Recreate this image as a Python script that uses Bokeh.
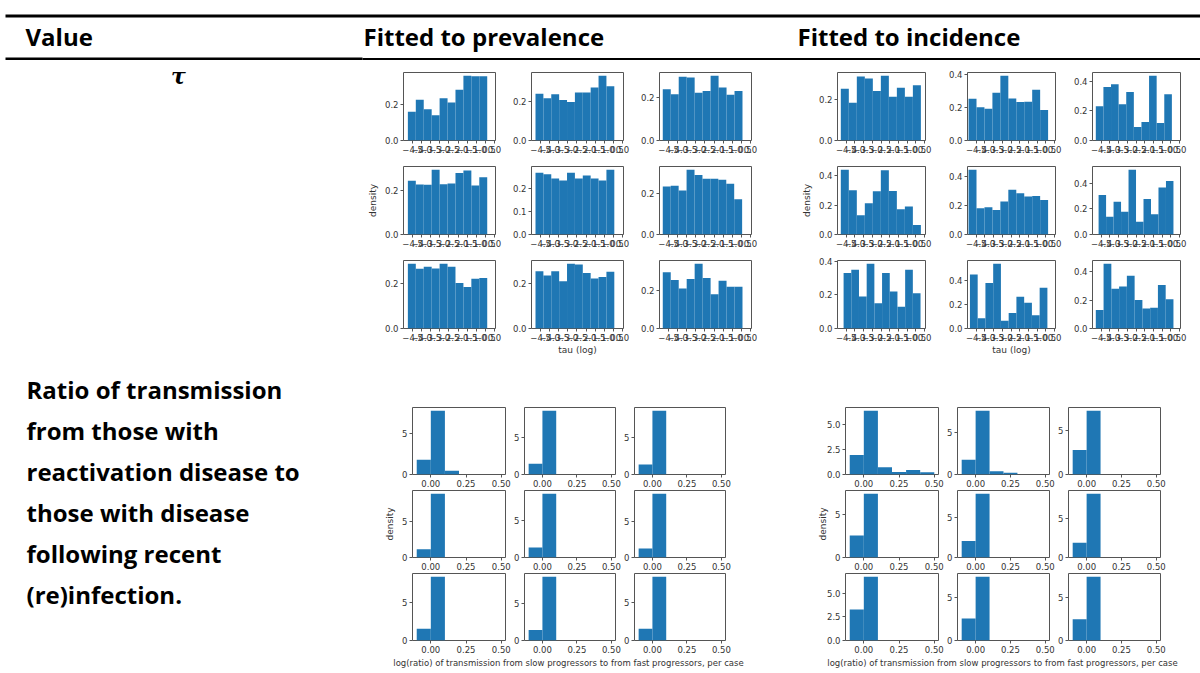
import numpy as np
from bokeh.plotting import figure
from bokeh.layouts import row, column
from bokeh.models import Range1d, FixedTicker, Spacer, ColumnDataSource, CustomJSTickFormatter
from bokeh.core.properties import value
from bokeh.embed import file_html
from bokeh.resources import INLINE

# ---------------- data ----------------
header_labels = ["Value", "Fitted to prevalence", "Fitted to incidence"]
tau_symbol = "τ"
ratio_row_label = ["Ratio of transmission", "from those with", "reactivation disease to",
                   "those with disease", "following recent", "(re)infection."]
tau_xlabel = "tau (log)"
ratio_xlabel = "log(ratio) of transmission from slow progressors to from fast progressors, per case"
density_label = "density"

# tau (log) histograms, 10 bins each, panels in row-major order (3x3)
tau_prev = [
    [0.159, 0.224, 0.172, 0.139, 0.233, 0.209, 0.280, 0.357, 0.354, 0.354],
    [0.243, 0.219, 0.240, 0.210, 0.200, 0.249, 0.249, 0.275, 0.336, 0.282],
    [0.239, 0.216, 0.297, 0.294, 0.223, 0.231, 0.302, 0.247, 0.213, 0.231],
    [0.246, 0.229, 0.228, 0.297, 0.231, 0.234, 0.282, 0.294, 0.225, 0.263],
    [0.269, 0.262, 0.244, 0.235, 0.269, 0.244, 0.257, 0.244, 0.235, 0.282],
    [0.233, 0.236, 0.213, 0.314, 0.289, 0.270, 0.270, 0.265, 0.246, 0.171],
    [0.291, 0.268, 0.277, 0.270, 0.291, 0.277, 0.205, 0.186, 0.224, 0.227],
    [0.256, 0.236, 0.256, 0.211, 0.289, 0.286, 0.248, 0.223, 0.230, 0.253],
    [0.295, 0.254, 0.209, 0.259, 0.339, 0.264, 0.179, 0.250, 0.218, 0.218],
]
tau_prev_lo = [-4.76, -4.78, -4.82, -4.76, -4.78, -4.82, -4.76, -4.78, -4.82]
tau_prev_hi = [-0.40, -0.45, -0.44, -0.40, -0.45, -0.46, -0.40, -0.45, -0.44]

tau_inc = [
    [0.252, 0.184, 0.311, 0.302, 0.241, 0.315, 0.213, 0.257, 0.213, 0.269],
    [0.254, 0.203, 0.193, 0.291, 0.394, 0.256, 0.234, 0.236, 0.308, 0.185],
    [0.233, 0.363, 0.382, 0.245, 0.329, 0.091, 0.126, 0.439, 0.119, 0.313],
    [0.440, 0.300, 0.130, 0.212, 0.293, 0.437, 0.295, 0.172, 0.190, 0.065],
    [0.446, 0.180, 0.187, 0.169, 0.227, 0.308, 0.284, 0.261, 0.266, 0.238],
    [0.308, 0.139, 0.256, 0.178, 0.505, 0.099, 0.277, 0.157, 0.366, 0.418],
    [0.330, 0.350, 0.190, 0.385, 0.150, 0.330, 0.220, 0.130, 0.350, 0.210],
    [0.450, 0.085, 0.380, 0.540, 0.065, 0.130, 0.265, 0.215, 0.110, 0.340],
    [0.130, 0.455, 0.280, 0.295, 0.370, 0.200, 0.140, 0.145, 0.305, 0.205],
]
tau_inc_lo = [-4.81, -4.94, -4.81, -4.81, -4.94, -4.65, -4.65, -4.86, -4.81]
tau_inc_hi = [-0.21, -0.37, -0.44, -0.21, -0.37, -0.35, -0.23, -0.41, -0.35]

tau_xlim = (-5.0, 0.055)
tau_xticks = [-4.5, -4.0, -3.5, -3.0, -2.5, -2.0, -1.5, -1.0, -0.5, 0.0]

# log(ratio) histograms, bins of 0.1 from -0.1 to 0.5
ratio_edges = [-0.1, 0.0, 0.1, 0.2, 0.3, 0.4, 0.5]
ratio_prev = [
    [1.80, 7.75, 0.45, 0, 0, 0],
    [1.45, 8.55, 0, 0, 0, 0],
    [1.35, 8.65, 0, 0, 0, 0],
    [1.15, 8.85, 0, 0, 0, 0],
    [1.35, 8.65, 0, 0, 0, 0],
    [1.25, 8.75, 0, 0, 0, 0],
    [1.55, 8.45, 0, 0, 0, 0],
    [1.40, 8.60, 0, 0, 0, 0],
    [1.55, 8.45, 0, 0, 0, 0],
]
ratio_inc = [
    [1.95, 6.40, 0.72, 0.25, 0.45, 0.23],
    [1.76, 7.65, 0.39, 0.20, 0, 0],
    [2.78, 7.22, 0, 0, 0, 0],
    [2.56, 7.44, 0, 0, 0, 0],
    [2.05, 7.95, 0, 0, 0, 0],
    [1.89, 8.11, 0, 0, 0, 0],
    [3.27, 6.73, 0, 0, 0, 0],
    [2.56, 7.44, 0, 0, 0, 0],
    [2.50, 7.50, 0, 0, 0, 0],
]
ratio_xlim = (-0.13, 0.53)
ratio_xticks = [0.0, 0.25, 0.5]

# ---------------- style ----------------
BLUE = "#1f77b4"
SPINE = "#555555"
TXT = "#333333"
TICK_FS = "8.5px"
LAB_FS = "9px"


def fmt(digits):
    return CustomJSTickFormatter(args=dict(d=digits), code="""
        const s = Math.abs(tick).toFixed(d);
        return (tick < -1e-9 ? "\u2212" : "") + s;
    """)


def panel(edges, dens, xlim, xticks, xdig, ystep_rule, w, h, bl, br, bt, bb,
          ylab=None, xlab=None):
    ymax = 1.05 * max(dens)
    p = figure(width=w, height=h, x_range=Range1d(*xlim), y_range=Range1d(0, ymax),
               output_backend="svg", toolbar_location=None,
               min_border_left=bl, min_border_right=br, min_border_top=bt, min_border_bottom=bb)
    src = ColumnDataSource(dict(left=list(edges[:-1]), right=list(edges[1:]), top=list(dens)))
    p.quad(left="left", right="right", top="top", bottom=0, source=src,
           fill_color=BLUE, line_color=None)
    p.grid.visible = False
    p.outline_line_color = SPINE
    p.outline_line_width = 1
    p.outline_line_alpha = 1
    step, ydig = ystep_rule(ymax)
    yticks = [round(k * step, 4) for k in range(0, int(ymax / step + 1e-9) + 1)]
    p.xaxis.ticker = FixedTicker(ticks=xticks)
    p.yaxis.ticker = FixedTicker(ticks=yticks)
    p.xaxis.formatter = fmt(xdig)
    p.yaxis.formatter = fmt(ydig)
    for ax in (p.xaxis[0], p.yaxis[0]):
        ax.axis_line_color = None
        ax.major_tick_line_color = SPINE
        ax.major_tick_out = 3
        ax.major_tick_in = 0
        ax.minor_tick_line_color = None
        ax.major_label_text_font = "DejaVu Sans"
        ax.major_label_text_font_size = TICK_FS
        ax.major_label_text_color = TXT
        ax.major_label_standoff = 2
        ax.axis_label_text_font = "DejaVu Sans"
        ax.axis_label_text_font_size = LAB_FS
        ax.axis_label_text_font_style = "normal"
        ax.axis_label_text_color = TXT
    if ylab:
        p.yaxis.axis_label = ylab
        p.yaxis.axis_label_standoff = 4
    if xlab:
        p.xaxis.axis_label = xlab
        p.xaxis.axis_label_standoff = 1
    return p


def tau_rule(ymax):
    return (0.1 if ymax < 0.3 else 0.2), 1


def ratio_rule(ymax):
    return (2.5, 1) if ymax < 7.5 else (5.0, 0)


# layout geometry (pixels): (border_left, frame_width, border_right) / (top, frame_height, bottom)
tau_prev_cols = [(43, 92, 7), (29, 92, 7), (29, 92, 7)]
tau_inc_cols = [(47, 88, 7), (35, 88, 7), (30, 88, 7)]
tau_rows = [(12, 68, 20), (6, 68, 20), (6, 68, 32)]
ratio_prev_cols = [(52, 93, 6), (11, 93, 6), (11, 93, 6)]
ratio_inc_cols = [(55, 93, 6), (12, 93, 6), (12, 93, 6)]
ratio_rows = [(47, 67, 15), (1, 67, 15), (1, 67, 15)]

right_rows = []
for r, (bt, fh, bb) in enumerate(tau_rows):
    figs = []
    for grid, cols, los, his in ((tau_prev, tau_prev_cols, tau_prev_lo, tau_prev_hi),
                                 (tau_inc, tau_inc_cols, tau_inc_lo, tau_inc_hi)):
        for c, (bl, fw, br) in enumerate(cols):
            i = r * 3 + c
            edges = np.linspace(los[i], his[i], len(grid[i]) + 1)
            figs.append(panel(edges, grid[i], tau_xlim, tau_xticks, 1, tau_rule,
                              bl + fw + br, bt + fh + bb, bl, br, bt, bb,
                              ylab=density_label if (r == 1 and c == 0) else None,
                              xlab=tau_xlabel if (r == 2 and c == 1) else None))
    h = bt + fh + bb
    right_rows.append(row(figs[:3] + [Spacer(width=32, height=h)] + figs[3:], spacing=0))

for r, (bt, fh, bb) in enumerate(ratio_rows):
    figs = []
    for grid, cols in ((ratio_prev, ratio_prev_cols), (ratio_inc, ratio_inc_cols)):
        for c, (bl, fw, br) in enumerate(cols):
            i = r * 3 + c
            figs.append(panel(ratio_edges, grid[i], ratio_xlim, ratio_xticks, 2, ratio_rule,
                              bl + fw + br, bt + fh + bb, bl, br, bt, bb,
                              ylab=density_label if (r == 1 and c == 0) else None))
    h = bt + fh + bb
    right_rows.append(row(figs[:3] + [Spacer(width=59, height=h)] + figs[3:], spacing=0))


def blank(w, h, xr, yr):
    f = figure(width=w, height=h, x_range=Range1d(*xr), y_range=Range1d(*yr),
               output_backend="svg", toolbar_location=None, min_border=0,
               x_axis_type=None, y_axis_type=None)
    f.outline_line_color = None
    f.grid.visible = False
    return f


# x-label strips for the ratio grids (label wider than one panel)
strip_p = blank(430, 18, (360, 790), (673, 655))
strip_p.text(x=[568], y=[662], text=[ratio_xlabel], text_align="center", text_baseline="middle",
             text_font=value("DejaVu Sans"), text_font_size="8.5px", text_color=TXT)
strip_i = blank(400, 18, (790, 1190), (673, 655))
strip_i.text(x=[1002], y=[662], text=[ratio_xlabel], text_align="center", text_baseline="middle",
             text_font=value("DejaVu Sans"), text_font_size="8.5px", text_color=TXT)
right_rows.append(row([strip_p, strip_i], spacing=0))

# header
hdr = blank(1200, 60, (0, 1200), (60, 0))
hdr.segment(x0=[5, 5, 362], y0=[15.5, 58.5, 58.5], x1=[1200, 362, 1200], y1=[15.5, 58.5, 58.5],
            line_color="black", line_width=[3, 3, 2])
hdr.text(x=[25, 363, 797], y=[36, 36, 36], text=header_labels, text_baseline="middle",
         text_font=value("Open Sans"), text_font_style="bold", text_font_size="24px",
         text_color="black")

# left column
left = blank(360, 613, (0, 360), (673, 60))
left.text(x=[178], y=[75], text=[tau_symbol], text_align="center", text_baseline="middle",
          text_font=value("DejaVu Serif"), text_font_style="bold italic", text_font_size="22px",
          text_color="black")
left.text(x=[26] * 6, y=[388.5, 429.5, 470.5, 511.5, 552.5, 593.5], text=ratio_row_label,
          text_baseline="middle", text_font=value("Open Sans"), text_font_style="bold",
          text_font_size="24px", text_color="black")

layout = column([hdr, row([left, column(right_rows, spacing=0)], spacing=0)], spacing=0)

open("out.html", "w").write(file_html(layout, INLINE))
